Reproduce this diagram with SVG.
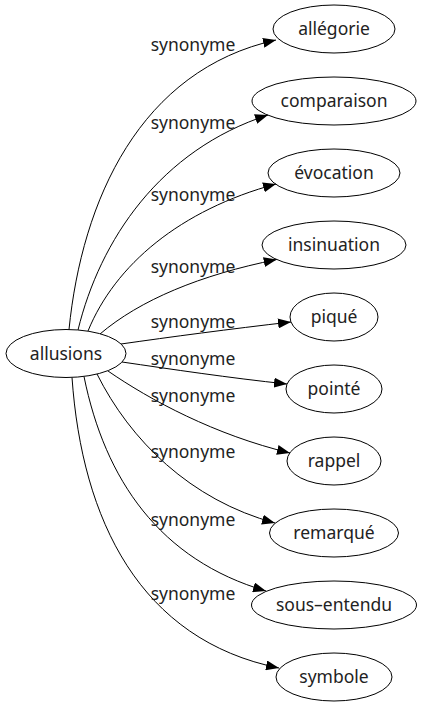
<svg xmlns="http://www.w3.org/2000/svg" width="422" height="707" viewBox="0 0 422 707">
<style>
.node ellipse{fill:none;stroke:#000;stroke-width:1}
.node text{font-family:"Noto Sans","DejaVu Sans",sans-serif;font-size:17.5px;fill:#222;text-anchor:middle}
.edges path{fill:none;stroke:#000;stroke-width:1;marker-end:url(#arr)}
.edges text{font-family:"Noto Sans","DejaVu Sans",sans-serif;font-size:17.5px;fill:#222;text-anchor:middle}
</style>
<defs>
<marker id="arr" markerWidth="13" markerHeight="10" refX="13" refY="5" orient="auto" markerUnits="userSpaceOnUse">
<path d="M0,0 L13,5 L0,10 z" fill="#000"/>
</marker>
</defs>
<rect width="422" height="707" fill="#fff"/>
<g class="edges" id="edges">
<path d="M69,329.5 C82,200 140,70 276,40"/>
<text x="193" y="51">synonyme</text>
<path d="M78,330 C100,240 160,150 268,115"/>
<text x="193" y="129">synonyme</text>
<path d="M88,331 C115,265 180,210 276,184"/>
<text x="193" y="201">synonyme</text>
<path d="M100,334 C140,300 200,275 276.7,259.5"/>
<text x="193" y="273">synonyme</text>
<path d="M121,344 C170,337 230,329 291,322"/>
<text x="193" y="328">synonyme</text>
<path d="M122,362 C170,369 230,378 287,384"/>
<text x="193" y="365">synonyme</text>
<path d="M108,371 C150,400 215,435 290,453"/>
<text x="193" y="402">synonyme</text>
<path d="M97,374 C130,440 190,500 275,523"/>
<text x="193" y="458">synonyme</text>
<path d="M84,376.5 C105,480 160,560 266,591"/>
<text x="193" y="526">synonyme</text>
<path d="M72,377.5 C82,520 140,640 279,668"/>
<text x="193" y="600">synonyme</text>
</g>
<g class="node" id="allusions"><ellipse cx="66" cy="353.5" rx="60" ry="24"/><text x="66" y="359.5">allusions</text></g>
<g class="node" id="allegorie"><ellipse cx="334" cy="29" rx="61" ry="24"/><text x="334" y="35">allégorie</text></g>
<g class="node" id="comparaison"><ellipse cx="334" cy="101" rx="82" ry="24"/><text x="334" y="107">comparaison</text></g>
<g class="node" id="evocation"><ellipse cx="334" cy="173" rx="66" ry="24"/><text x="334" y="179">évocation</text></g>
<g class="node" id="insinuation"><ellipse cx="334" cy="245" rx="72" ry="24"/><text x="334" y="251">insinuation</text></g>
<g class="node" id="pique"><ellipse cx="334" cy="317" rx="44" ry="24"/><text x="334" y="323">piqué</text></g>
<g class="node" id="pointe"><ellipse cx="334" cy="389" rx="48" ry="24"/><text x="334" y="395">pointé</text></g>
<g class="node" id="rappel"><ellipse cx="334" cy="461" rx="47" ry="24"/><text x="334" y="467">rappel</text></g>
<g class="node" id="remarque"><ellipse cx="334" cy="533" rx="64.5" ry="24"/><text x="334" y="539">remarqué</text></g>
<g class="node" id="sous-entendu"><ellipse cx="334" cy="605" rx="82.5" ry="24"/><text x="334" y="611">sous–entendu</text></g>
<g class="node" id="symbole"><ellipse cx="334" cy="677" rx="58" ry="24"/><text x="334" y="683">symbole</text></g>
</svg>
